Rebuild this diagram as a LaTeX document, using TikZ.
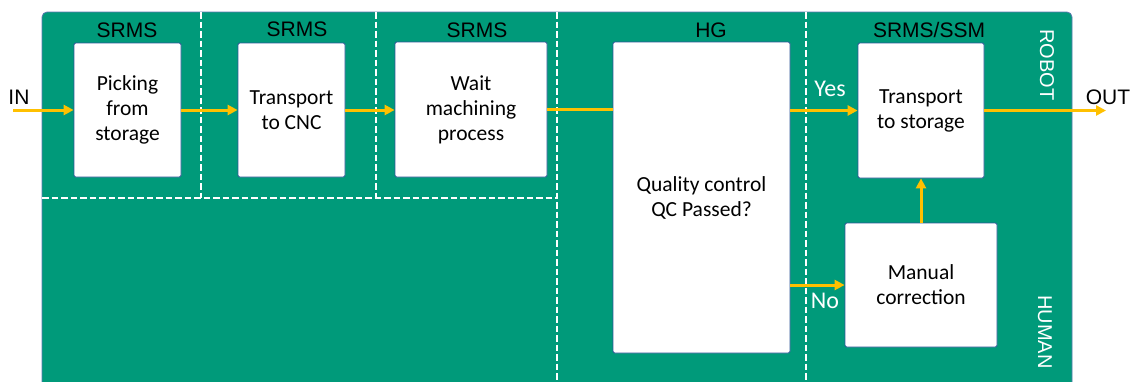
\documentclass[tikz,border=0pt]{standalone}
\usepackage{fontspec}
\setmainfont{Carlito}
\newfontfamily\arialfont{Liberation Sans}
\usetikzlibrary{arrows.meta}
\definecolor{panelgreen}{RGB}{0,154,122}
\definecolor{flowyellow}{RGB}{255,192,0}
\definecolor{boxblue}{RGB}{47,85,151}
\definecolor{edgeblue}{RGB}{90,120,175}
\begin{document}
\begin{tikzpicture}[x=1pt,y=-1pt,
  stepbox/.style={draw=boxblue, line width=0.8pt, fill=white, rounded corners=1.5pt,
    align=center, inner sep=0pt, font=\fontsize{21.5}{25}\selectfont},
  lanelabel/.style={font=\arialfont\fontsize{21}{24}\selectfont, text=black, inner sep=0pt},
  sidelabel/.style={font=\arialfont\fontsize{20}{24}\selectfont, text=white, inner sep=0pt, rotate=-90},
  branchlabel/.style={font=\fontsize{24}{28}\selectfont, text=white, inner sep=0pt},
  divider/.style={draw=white, line width=1.7pt, dash pattern=on 6.5pt off 3pt},
  flowline/.style={draw=flowyellow, line width=3pt},
  flow/.style={flowline, -{Triangle[length=10pt,width=10pt]}}]
\useasboundingbox (0,0) rectangle (1138,381);
\clip (0,0) rectangle (1138,381);

% background panel
\draw[fill=panelgreen, draw=edgeblue, line width=0.8pt, rounded corners=5pt]
  (42,12) rectangle (1072,400);

% lane dividers
\draw[divider] (201,12) -- (201,198);
\draw[divider] (376,12) -- (376,198);
\draw[divider] (557,12) -- (557,390);
\draw[divider] (806,12) -- (806,390);
\draw[divider] (42,198) -- (557,198);

% station labels
\node[lanelabel] (l1) at (127,30) {SRMS};
\node[lanelabel] (l2) at (297,29) {SRMS};
\node[lanelabel] (l3) at (477,30) {SRMS};
\node[lanelabel] (l4) at (711,30) {HG};
\node[lanelabel] (l5) at (929,30) {SRMS/SSM};
\node[sidelabel] (robot) at (1047,65) {ROBOT};
\node[sidelabel] (human) at (1045,332) {HUMAN};

% process steps
\node[stepbox, minimum width=107pt, minimum height=134pt] (pick) at (127.5,110) {Picking\\from\\storage};
\node[stepbox, minimum width=107pt, minimum height=134pt] (cnc) at (291.5,110) {Transport\\to CNC};
\node[stepbox, minimum width=152pt, minimum height=135pt] (wait) at (471,109.5) {Wait\\machining\\process};
\node[stepbox, minimum width=177pt, minimum height=311pt] (qc) at (701.5,197.5) {Quality control\\QC Passed?};
\node[stepbox, minimum width=126pt, minimum height=135pt] (store) at (921,110.5) {Transport\\to storage};
\node[stepbox, minimum width=152pt, minimum height=124pt] (manual) at (921,285) {Manual\\correction};

% input / output
\node[lanelabel] (inlbl) at (19,97) {IN};
\node[lanelabel] (outlbl) at (1108,97) {OUT};
\coordinate (instart) at (13,110);
\coordinate (outend) at (1106,110.5);

% flow
\draw[flow] (instart) -- (pick.west);
\draw[flow] (pick.east) -- (cnc.west);
\draw[flow] (cnc.east) -- (cnc.east -| wait.west);
\draw[flowline] (wait.east) -- (wait.east -| qc.west);
\draw[flow] (qc.east |- store.west) -- (store.west);
\draw[flow] (qc.east |- manual.west) -- (manual.west);
\draw[flow] (manual.north) -- (store.south);
\draw[flow] (store.east) -- (outend);

% decision labels
\node[branchlabel] (yes) at (830,89) {Yes};
\node[branchlabel] (no) at (825,301) {No};
\end{tikzpicture}
\end{document}
